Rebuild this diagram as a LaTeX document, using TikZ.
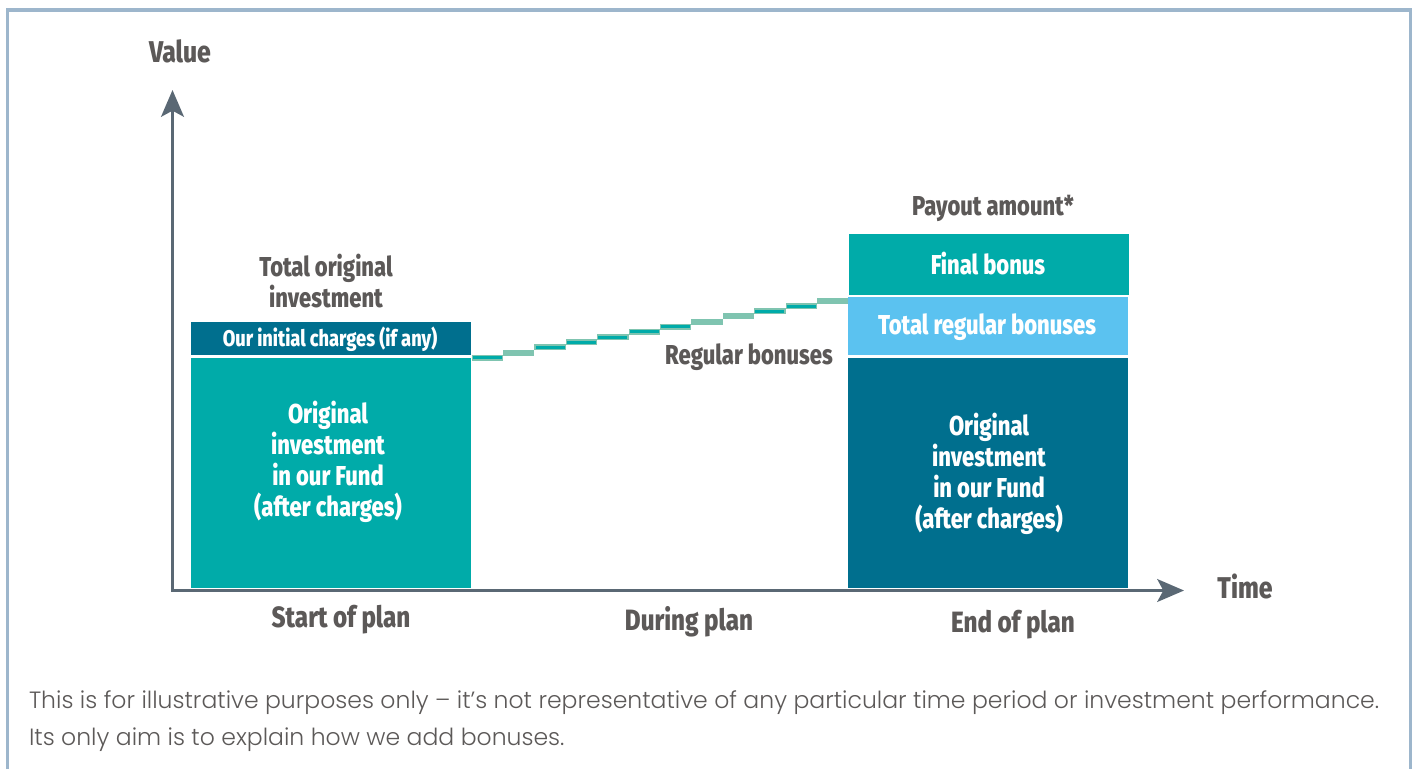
\documentclass[tikz,border=0pt]{standalone}
\usepackage{fontspec}
\usetikzlibrary{arrows.meta}
\setmainfont{Fira Sans}
\newfontfamily\headfont[FakeStretch=0.805,UprightFont=* ExtraBold]{Fira Sans}
\newfontfamily\bigfont[FakeStretch=0.825,UprightFont=* ExtraBold]{Fira Sans}
\newfontfamily\footfont[UprightFont=* Light]{Poppins}
\definecolor{framec}{HTML}{9DB6CC}
\definecolor{tealc}{HTML}{00ABA9}
\definecolor{darkc}{HTML}{006F8E}
\definecolor{bluec}{HTML}{5BC2F0}
\definecolor{greyc}{HTML}{5C5958}
\definecolor{axisc}{HTML}{5A6874}
\definecolor{stepc}{HTML}{7FC4B0}
\tikzset{
  x=0.75pt,y=-0.75pt,
  lab/.style={inner sep=0,outer sep=0,text=greyc,font=\headfont\fontsize{20.5}{23.25}\selectfont,align=center},
  biglab/.style={lab,font=\bigfont\fontsize{22}{25}\selectfont},
  toplab/.style={lab,font=\bigfont\fontsize{22.5}{25}\selectfont},
  wlab/.style={lab,text=white},
  foot/.style={inner sep=0,outer sep=0,anchor=base west,text=greyc,font=\footfont\fontsize{17.65}{20}\selectfont},
  axisline/.style={draw=axisc,line width=2.7pt,-{Stealth[length=20pt,width=17pt,inset=4.5pt]}},
  block/.style={inner sep=0,outer sep=0,anchor=north west,minimum width=210pt},
}
\newcommand{\stepseg}[3]{%
  \fill[stepc] (#1,#2-3) rectangle ++(31.4,6);
  \ifnum#3=1 \fill[tealc] (#1+1.2,#2-1.5) rectangle ++(29,3);\fi
}
\begin{document}
\begin{tikzpicture}
\useasboundingbox (0,0) rectangle (1416,769);
\fill[white] (0,0) rectangle (1416,769);
\draw[framec,line width=2.4pt] (7.5,769) -- (7.5,10) -- (1410.5,10) -- (1410.5,769);
% stepped line
\stepseg{471.5}{357.7}{1}\stepseg{502.9}{352.5}{0}\stepseg{534.3}{347.3}{1}
\stepseg{565.7}{342.2}{1}\stepseg{597.1}{337.0}{1}\stepseg{628.5}{331.8}{1}
\stepseg{659.9}{326.7}{1}\stepseg{691.3}{321.6}{0}\stepseg{722.7}{316.4}{0}
\stepseg{754.1}{311.3}{1}\stepseg{785.5}{306.1}{1}\stepseg{816.9}{301.2}{0}
% left column
\node[block,fill=darkc,minimum height=24.75pt] (charges) at (191,322) {};
\node[block,fill=tealc,minimum height=172.9pt] (orig) at (191,357.5) {};
% right column
\node[block,fill=tealc,minimum height=45.75pt] (final) at (849,234) {};
\node[block,fill=bluec,minimum height=43.5pt] (regular) at (848,297) {};
\node[block,fill=darkc,minimum height=172.9pt] (origr) at (848,357.5) {};
% axes
\coordinate (o) at (172.5,590.5);
\coordinate (ytip) at (172.5,90);
\coordinate (xtip) at (1184,590.5);
\draw[axisline] (o) -- (ytip);
\draw[axisline] ([xshift=-1pt]o) -- (xtip);
% labels
\node[toplab] (value) at (180,51) {Value};
\node[toplab] (time) at (1245,586.5) {Time};
\node[lab] (total) at (326,281.5) {Total original\\investment};
\node[wlab,font=\headfont\fontsize{17}{20}\selectfont] (chargest) at (330,339) {Our initial charges (if any)};
\node[wlab] (origt) at (328,462) {Original\\investment\\in our Fund\\(after charges)};
\node[lab] (payout) at (993,208) {Payout amount*};
\node[wlab] (finalt) at (988,264) {Final bonus};
\node[wlab] (regulart) at (987,327) {Total regular bonuses};
\node[lab] (regb) at (749,357.5) {Regular bonuses};
\node[wlab] (origrt) at (989,474) {Original\\investment\\in our Fund\\(after charges)};
\node[biglab] (start) at (341,619.5) {Start of plan};
\node[biglab] (during) at (689,622) {During plan};
\node[biglab] (endp) at (1013,624.5) {End of plan};
\node[foot] (f1) at (29,708) {This is for illustrative purposes only – it’s not representative of any particular time period or investment performance.};
\node[foot] (f2) at (29,745) {Its only aim is to explain how we add bonuses.};
\end{tikzpicture}
\end{document}
